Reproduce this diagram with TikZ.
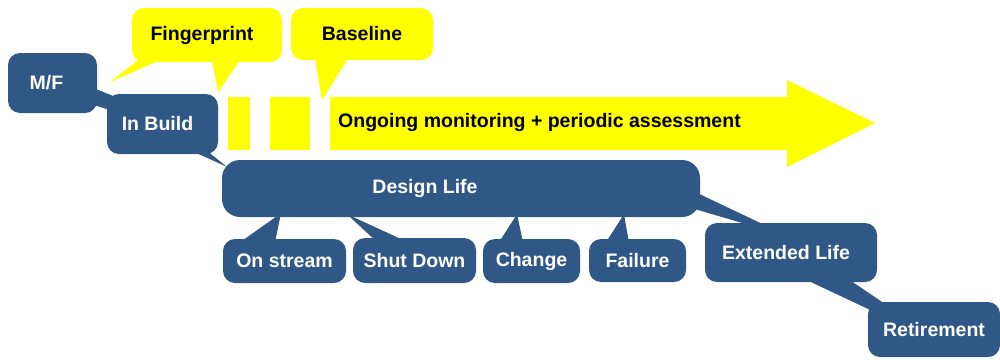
\documentclass[tikz,border=0pt]{standalone}
\usepackage{fontspec}
\setmainfont{Liberation Sans}
\usetikzlibrary{calc}
\usepackage{xcolor}

\definecolor{lifeblue}{RGB}{47,88,134}
\definecolor{noteyellow}{RGB}{255,255,0}

\tikzset{
  stage/.style={fill=lifeblue, rounded corners=12pt, text=white, inner sep=0pt,
    font=\bfseries\fontsize{19.5}{22}\selectfont},
  note/.style={fill=noteyellow, rounded corners=12pt, text=black, inner sep=0pt,
    font=\bfseries\fontsize{19.5}{22}\selectfont},
}

\begin{document}
\begin{tikzpicture}[x=1pt,y=-1pt]
      \useasboundingbox (0,0) rectangle (1000,359);

      % Monitoring arrow and the two early blocks
      \fill[noteyellow] (228,97) rectangle (250,150);
      \fill[noteyellow] (270,97) rectangle (310,150);
      \fill[noteyellow] (330,97) -- (787,97) -- (787,80) -- (875,123)
        -- (787,167) -- (787,150) -- (330,150) -- cycle;
      \node[note, fill=none, anchor=west] (ongoing) at (338,122)
        {Ongoing monitoring + periodic assessment};

      % Callouts
      \node[note, minimum width=150, minimum height=54] (finger) at (207,35) {\hspace*{-10pt}Fingerprint};
      \node[note, minimum width=142, minimum height=52] (base) at (362,34) {Baseline};
      \fill[noteyellow] ($(finger.south west)+(-22,20)$) -- ($(finger.south west)+(6,-2)$)
        -- ($(finger.south west)+(28,-2)$) -- cycle;
      \fill[noteyellow] ($(finger.south)+(5,-2)$) -- ($(finger.south)+(33,-2)$)
        -- ($(finger.south)+(11,30)$) -- cycle;
      \fill[noteyellow] ($(base.south)+(-47,-2)$) -- ($(base.south)+(-14,-2)$)
        -- ($(base.south)+(-40,40)$) -- cycle;

      % Life stages
      \node[stage, minimum width=89, minimum height=60] (mf) at (52.5,83) {M/F\hspace*{12pt}};
      \node[stage, minimum width=111, minimum height=60] (build) at (162.5,124) {In Build\hspace*{10pt}};
      \node[stage, minimum width=478, minimum height=57, rounded corners=18pt] (design) at (461,188.5)
        {Design Life\hspace*{72pt}};
      \node[stage, minimum width=123, minimum height=44] (onstream) at (284.5,261) {On stream};
      \node[stage, minimum width=123, minimum height=45] (shutdown) at (414.5,260.5) {Shut Down};
      \node[stage, minimum width=97, minimum height=44] (change) at (531.5,261) {Change};
      \node[stage, minimum width=97, minimum height=43] (failure) at (637.5,260.5) {Failure};
      \node[stage, minimum width=172, minimum height=59] (extended) at (791,252.5) {Extended Life\hspace*{10pt}};
      \node[stage, minimum width=132, minimum height=55] (retire) at (934,329.5) {Retirement};

      % Tails joining the stages
      \fill[lifeblue] ($(mf.east)+(-9,3)$) -- ($(build.north west)+(6,2)$)
        -- ($(build.north west)+(2,16)$) -- ($(mf.east)+(-6,21)$) -- cycle;
      \fill[lifeblue] ($(build.south east)+(-28,-4)$) -- ($(build.south east)+(-12,-4)$)
        -- ($(design.north west)+(5,7)$) -- cycle;
      \fill[lifeblue] ($(onstream.north)+(-41,1)$) -- ($(onstream.north)+(-9,1)$)
        -- ($(design.south)+(-180,-4)$) -- cycle;
      \fill[lifeblue] ($(shutdown.north)+(-41,1)$) -- ($(shutdown.north)+(-14,1)$)
        -- ($(design.south)+(-114,-3)$) -- cycle;
      \fill[lifeblue] ($(change.north)+(-31,1)$) -- ($(change.north)+(-9,1)$)
        -- ($(design.south)+(56,-3)$) -- cycle;
      \fill[lifeblue] ($(failure.north)+(-30,1)$) -- ($(failure.north)+(-9,1)$)
        -- ($(design.south)+(163,-3)$) -- cycle;
      \fill[lifeblue] ($(design.east)+(-4,4)$) -- ($(extended.north)+(-29,1)$)
        -- ($(extended.north)+(-46,1)$) -- ($(design.east)+(-4,21)$) -- cycle;
      \fill[lifeblue] ($(extended.south)+(16,-2)$) -- ($(extended.south)+(59,-2)$)
        -- ($(retire.north west)+(17,2)$) -- ($(retire.north west)+(2,8)$) -- cycle;
\end{tikzpicture}
\end{document}
